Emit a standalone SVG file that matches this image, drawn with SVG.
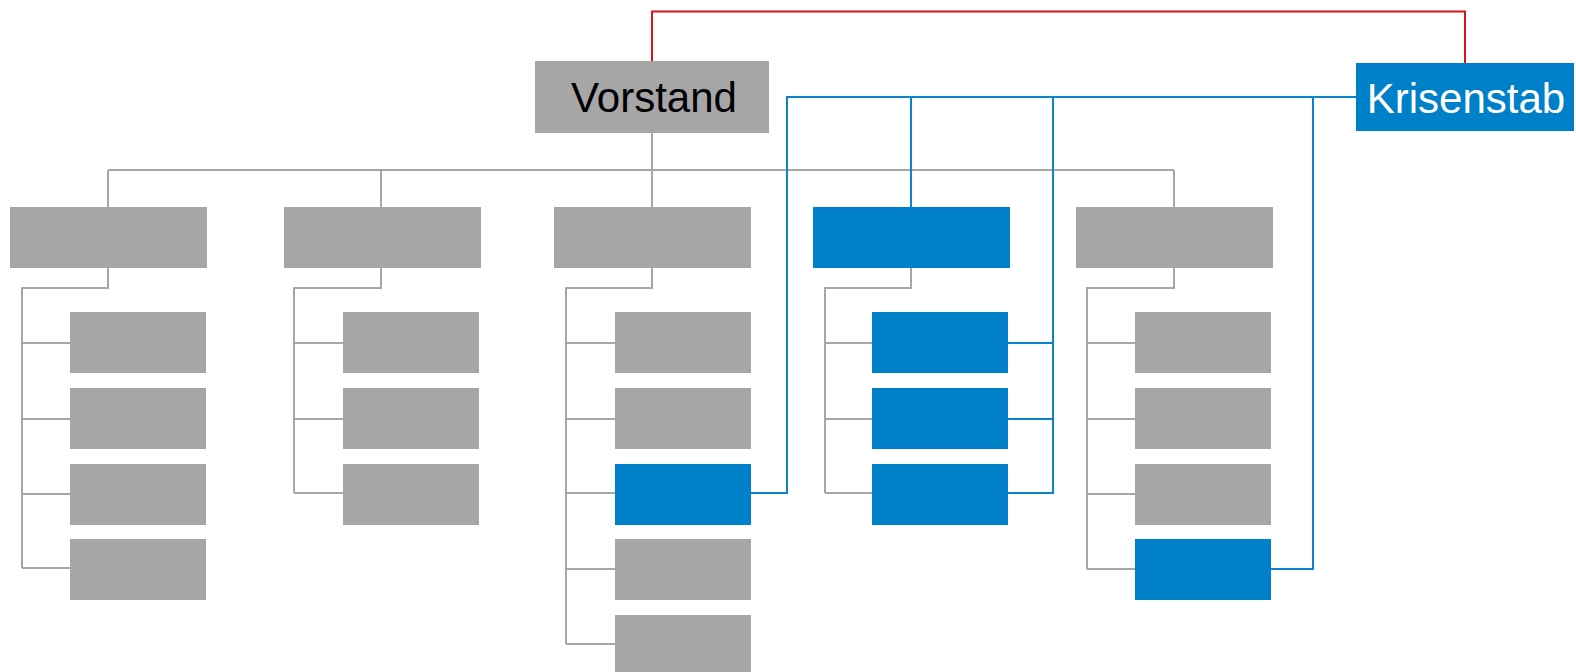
<svg xmlns="http://www.w3.org/2000/svg" width="1576" height="672" viewBox="0 0 1576 672">
<style>
.g{fill:#A6A6A6}
.b{fill:#0080C8}
.lg{fill:none;stroke:#A6A6A6;stroke-width:2}
.lb{fill:none;stroke:#0A84CC;stroke-width:2}
.lr{fill:none;stroke:#D7141C;stroke-width:2}
.t{font-family:"Liberation Sans",Arial,sans-serif;font-size:42px}
</style>
<rect width="1576" height="672" fill="#fff"/>
<g id="connectors">
<path class="lr" d="M652 61V11.5H1465V63"/>
<path class="lg" d="M652 133V207M108 170H1174M108 170V207M381 170V207M1174 170V207"/>
<path class="lg" d="M108 268V288H22V568M22 343H70M22 419H70M22 494H70M22 568H70"/>
<path class="lg" d="M381 268V288H294V493M294 343H343M294 419H343M294 493H343"/>
<path class="lg" d="M652 268V288H566V644M566 343H615M566 419H615M566 493H615M566 569H615M566 644H615"/>
<path class="lg" d="M911 268V288H825V493M825 343H872M825 419H872M825 493H872"/>
<path class="lg" d="M1174 268V288H1087V569M1087 343H1135M1087 419H1135M1087 494H1135M1087 569H1135"/>
<path class="lb" d="M1356 97H787V493H751M911 97V207M1053 97V493H1008M1053 343H1008M1053 419H1008M1313 97V569H1271"/>
</g>
<g id="vorstand"><rect class="g" x="535" y="61" width="234" height="72"/><text class="t" x="654" y="112" text-anchor="middle" fill="#000">Vorstand</text></g>
<g id="krisenstab"><rect class="b" x="1356" y="63" width="218" height="68"/><text class="t" x="1466" y="113" text-anchor="middle" fill="#fff">Krisenstab</text></g>
<g id="c1"><rect class="g" x="10" y="207" width="197" height="61"/></g>
<g id="c2"><rect class="g" x="284" y="207" width="197" height="61"/></g>
<g id="c3"><rect class="g" x="554" y="207" width="197" height="61"/></g>
<g id="c4"><rect class="b" x="813" y="207" width="197" height="61"/></g>
<g id="c5"><rect class="g" x="1076" y="207" width="197" height="61"/></g>
<g id="c1-1"><rect class="g" x="70" y="312" width="136" height="61"/></g>
<g id="c1-2"><rect class="g" x="70" y="388" width="136" height="61"/></g>
<g id="c1-3"><rect class="g" x="70" y="464" width="136" height="61"/></g>
<g id="c1-4"><rect class="g" x="70" y="539" width="136" height="61"/></g>
<g id="c2-1"><rect class="g" x="343" y="312" width="136" height="61"/></g>
<g id="c2-2"><rect class="g" x="343" y="388" width="136" height="61"/></g>
<g id="c2-3"><rect class="g" x="343" y="464" width="136" height="61"/></g>
<g id="c3-1"><rect class="g" x="615" y="312" width="136" height="61"/></g>
<g id="c3-2"><rect class="g" x="615" y="388" width="136" height="61"/></g>
<g id="c3-3"><rect class="b" x="615" y="464" width="136" height="61"/></g>
<g id="c3-4"><rect class="g" x="615" y="539" width="136" height="61"/></g>
<g id="c3-5"><rect class="g" x="615" y="615" width="136" height="57"/></g>
<g id="c4-1"><rect class="b" x="872" y="312" width="136" height="61"/></g>
<g id="c4-2"><rect class="b" x="872" y="388" width="136" height="61"/></g>
<g id="c4-3"><rect class="b" x="872" y="464" width="136" height="61"/></g>
<g id="c5-1"><rect class="g" x="1135" y="312" width="136" height="61"/></g>
<g id="c5-2"><rect class="g" x="1135" y="388" width="136" height="61"/></g>
<g id="c5-3"><rect class="g" x="1135" y="464" width="136" height="61"/></g>
<g id="c5-4"><rect class="b" x="1135" y="539" width="136" height="61"/></g>
</svg>
